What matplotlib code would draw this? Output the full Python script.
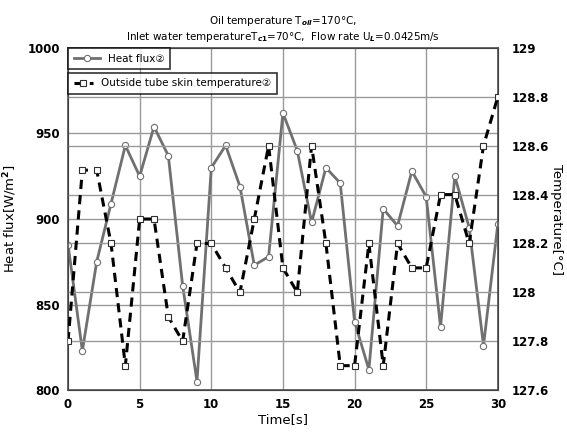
import matplotlib
matplotlib.use('Agg')
import matplotlib.pyplot as plt
import numpy as np

# time axis [s]
time_s = list(range(0, 31))

# heat flux [W/m2] (solid line, circles, left axis)
heat_flux = [885, 823, 875, 909, 943, 925, 954, 937, 861, 805,
             930, 943, 919, 873, 878, 962, 940, 898, 930, 921,
             840, 812, 906, 896, 928, 913, 837, 925, 895, 826,
             897]

# outside tube skin temperature [C] (dashed line, squares, right axis)
skin_temp = [127.8, 128.5, 128.5, 128.2, 127.7, 128.3, 128.3, 127.9, 127.8, 128.2,
             128.2, 128.1, 128.0, 128.3, 128.6, 128.1, 128.0, 128.6, 128.2, 127.7,
             127.7, 128.2, 127.7, 128.2, 128.1, 128.1, 128.4, 128.4, 128.2, 128.6,
             128.8]

left_ticks = [800, 850, 900, 950, 1000]
right_ticks = [127.6, 127.8, 128.0, 128.2, 128.4, 128.6, 128.8, 129.0]
x_ticks = [0, 5, 10, 15, 20, 25, 30]

plt.rcParams['font.family'] = ['DejaVu Sans']
plt.rcParams['font.weight'] = 'bold'

fig = plt.figure(figsize=(5.67, 4.32), dpi=100)
ax = fig.add_axes([0.12, 0.097, 0.758, 0.792])
ax2 = ax.twinx()

grid_col = '#9a9a9a'
for v in left_ticks[1:-1]:
    ax.axhline(v, color=grid_col, lw=1.0, zorder=0)
for v in right_ticks[1:-1]:
    ax2.axhline(v, color=grid_col, lw=1.0, zorder=0)
for v in x_ticks[1:-1]:
    ax.axvline(v, color=grid_col, lw=1.0, zorder=0)

l1, = ax.plot(time_s, heat_flux, '-', color='#707070', lw=2.0,
              marker='o', ms=4.5, mfc='white', mec='#707070', mew=0.8,
              label='Heat flux②', zorder=3)
l2, = ax2.plot(time_s, skin_temp, '--', color='black', lw=2.2, dashes=(3, 2),
               marker='s', ms=5, mfc='white', mec='#303030', mew=0.8,
               label='Outside tube skin temperature②', zorder=4)

ax.set_xlim(0, 30)
ax.set_ylim(800, 1000)
ax2.set_ylim(127.6, 129.0)
ax.set_xticks(x_ticks)
ax.set_yticks(left_ticks)
ax2.set_yticks(right_ticks)
ax2.set_yticklabels(['%g' % v for v in right_ticks])

ax.tick_params(length=0, labelsize=8.5, pad=6)
ax2.tick_params(length=0, labelsize=8.5, pad=10)
for sp in ax2.spines.values():
    sp.set_color('#505050')
    sp.set_linewidth(1.2)

ax.set_xlabel('Time[s]', fontsize=9.5, labelpad=1)
ax.set_ylabel('Heat flux[W/m$^2$]', fontsize=9.5, labelpad=6)
ax2.set_ylabel('Temperature[°C]', fontsize=9.5, rotation=270, labelpad=10)

ax.set_title('Oil temperature T$_{oil}$=170°C,\n'
             'Inlet water temperatureT$_{c1}$=70°C,  Flow rate U$_L$=0.0425m/s',
             fontsize=7.5, pad=6)

# two stacked legend boxes, as in the original
leg1 = ax2.legend(handles=[l1], loc='upper left', bbox_to_anchor=(0.0, 1.0),
                  fontsize=7.5, frameon=True, fancybox=False, edgecolor='black',
                  borderaxespad=0, handlelength=2.5, borderpad=0.55,
                  prop={'weight': 'normal', 'size': 7.5})
leg1.get_frame().set_linewidth(1.2)
ax2.add_artist(leg1)
leg2 = ax2.legend(handles=[l2], loc='upper left', bbox_to_anchor=(0.0, 0.928),
                  fontsize=7.5, frameon=True, fancybox=False, edgecolor='black',
                  borderaxespad=0, handlelength=1.8, borderpad=0.55,
                  prop={'weight': 'normal', 'size': 7.5})
leg2.get_frame().set_linewidth(1.2)

fig.savefig('out.png', dpi=100)
